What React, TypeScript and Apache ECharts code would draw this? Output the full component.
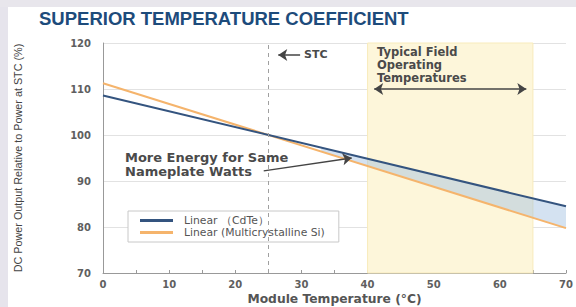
import React, { useEffect, useRef } from "react";
import * as echarts from "echarts";

const title = "SUPERIOR TEMPERATURE COEFFICIENT";
const xTicks = [0, 10, 20, 30, 40, 50, 60, 70];
const yTicks = [70, 80, 90, 100, 110, 120];
const cdteLine: [number, number][] = [[0, 108.6], [70, 84.5]];
const siLine: [number, number][] = [[0, 111.25], [70, 79.75]];
// gap region between the two lines: [temperature, Si value, CdTe value]
const gapRegion: [number, number, number][] = [[33, 96.4, 97.25], [70, 79.75, 84.5]];
const fieldRange = [40, 65];
const stcTemp = 25;
const names = ["Linear （CdTe）", "Linear (Multicrystalline Si)"];

export default function App() {
  const ref = useRef<HTMLDivElement>(null);
  useEffect(() => {
    const chart = echarts.init(ref.current!, null, { renderer: "svg" });
    const lbl = { fontFamily: "DejaVu Sans", fontWeight: "bold" as const, color: "#5f5f5f", fontSize: 10 };
    chart.setOption({
      animation: false,
      backgroundColor: "#fff",
      graphic: [
        { type: "rect", left: 0, top: 0, z: -10, shape: { width: 8, height: 307 }, style: { fill: "#e6e4ec" } },
        { type: "rect", left: 0, top: 0, z: -10, shape: { width: 576, height: 7 }, style: { fill: "#e8e6ec" } },
        {
          type: "text", left: 39, top: 9, z: 100,
          style: { text: title, fontFamily: "Liberation Sans", fontWeight: "bold", fontSize: 18.5, fill: "#1d4b7b" },
        },
        {
          type: "text", left: 377, top: 46, z: 100,
          style: {
            text: "Typical Field\nOperating\nTemperatures", fontFamily: "DejaVu Sans", fontWeight: "bold",
            fontSize: 11.5, lineHeight: 12.8, fill: "#4a4a4a",
          },
        },
        {
          type: "text", left: 125, top: 150, z: 100,
          style: {
            text: "More Energy for Same\nNameplate Watts", fontFamily: "DejaVu Sans", fontWeight: "bold",
            fontSize: 13, lineHeight: 14, fill: "#4a4a4a",
          },
        },
        {
          type: "text", left: 304, top: 49, z: 100,
          style: { text: "STC", fontFamily: "DejaVu Sans", fontWeight: "bold", fontSize: 11, fill: "#4a4a4a" },
        },
      ],
      grid: { left: 103, right: 10, top: 43, bottom: 34, outerBoundsMode: "none", containLabel: false },
      legend: {
        data: names.map((n) => ({ name: n, icon: "rect" })),
        orient: "vertical",
        left: 128,
        top: 211,
        itemWidth: 33,
        itemHeight: 3,
        itemGap: 1,
        borderColor: "#c8c8c8",
        borderWidth: 1,
        padding: [4, 14, 4, 12],
        backgroundColor: "#fff",
        textStyle: { fontFamily: "DejaVu Sans", fontSize: 10.8, color: "#555", padding: [0, 0, 0, 6] },
      },
      xAxis: {
        type: "value",
        min: 0,
        max: 70,
        interval: 10,
        name: "Module Temperature (°C)",
        nameLocation: "middle",
        nameGap: 19,
        nameMoveOverlap: false,
        nameTextStyle: { fontFamily: "DejaVu Sans", fontWeight: "bold", fontSize: 12.3, lineHeight: 13, color: "#555" },
        axisLine: { lineStyle: { color: "#999" } },
        axisTick: { show: true, inside: true, length: 3, lineStyle: { color: "#999" } },
        minorTick: { show: true, splitNumber: 2, length: 3, lineStyle: { color: "#999" } },
        axisLabel: { ...lbl, margin: 6, lineHeight: 11, formatter: (v: number) => (xTicks.includes(v) ? String(v) : "") },
        splitLine: { show: false },
      },
      yAxis: {
        type: "value",
        min: 70,
        max: 120,
        interval: 10,
        name: "DC Power Output Relative to Power at STC (%)",
        nameLocation: "middle",
        nameRotate: 90,
        nameGap: 80,
        nameMoveOverlap: false,
        nameTextStyle: { fontFamily: "Liberation Sans", fontSize: 10.8, color: "#444" },
        axisLine: { show: true, lineStyle: { color: "#999" } },
        axisTick: { show: false },
        axisLabel: { ...lbl, margin: 12, formatter: (v: number) => (yTicks.includes(v) ? String(v) : "") },
        splitLine: { lineStyle: { color: "#e2e2e2" } },
      },
      series: [
        {
          name: "band",
          type: "line",
          data: [],
          silent: true,
          z: 1,
          markArea: {
            silent: true,
            itemStyle: { color: "#fdf6da", borderColor: "#f8ebbb", borderWidth: 1 },
            data: [[{ xAxis: fieldRange[0], yAxis: 70 }, { xAxis: fieldRange[1], yAxis: 120 }]],
          },
          markLine: {
            silent: true,
            symbol: "none",
            label: { show: false },
            lineStyle: { color: "#a0a0a0", type: [4, 4], width: 1 },
            data: [{ xAxis: stcTemp }],
          },
        },
        {
          name: "gap",
          type: "custom",
          silent: true,
          z: 2,
          data: gapRegion,
          renderItem: (params: any, api: any) => {
            if (params.dataIndex !== 0) return null;
            const upper = gapRegion.map((d) => api.coord([d[0], d[2]]));
            const lower = gapRegion.map((d) => api.coord([d[0], d[1]])).reverse();
            return {
              type: "polygon",
              shape: { points: upper.concat(lower) },
              style: { fill: "rgba(160,190,225,0.45)" },
            };
          },
        },
        {
          name: names[1],
          type: "line",
          data: siLine,
          symbol: "none",
          color: "#f5b46c",
          lineStyle: { width: 2, color: "#f5b46c" },
          z: 3,
        },
        {
          name: names[0],
          type: "line",
          data: cdteLine,
          symbol: "none",
          color: "#34547f",
          lineStyle: { width: 2, color: "#34547f" },
          z: 4,
          markLine: {
            silent: true,
            label: { show: false },
            lineStyle: { color: "#444", type: "solid", width: 1.5 },
            symbolSize: [9, 9],
            data: [
              [{ coord: [29.8, 117.4], symbol: "none" }, { coord: [26.5, 117.4], symbol: "arrow" }],
              [{ coord: [41, 110], symbol: "arrow" }, { coord: [64, 110], symbol: "arrow" }],
              [{ coord: [24.3, 92.2], symbol: "none" }, { coord: [37.6, 95.0], symbol: "arrow" }],
            ],
          },
        },
      ],
    });
    return () => chart.dispose();
  }, []);
  return <div ref={ref} style={{ position: "fixed", left: 0, top: 0, width: 576, height: 307 }} />;
}
